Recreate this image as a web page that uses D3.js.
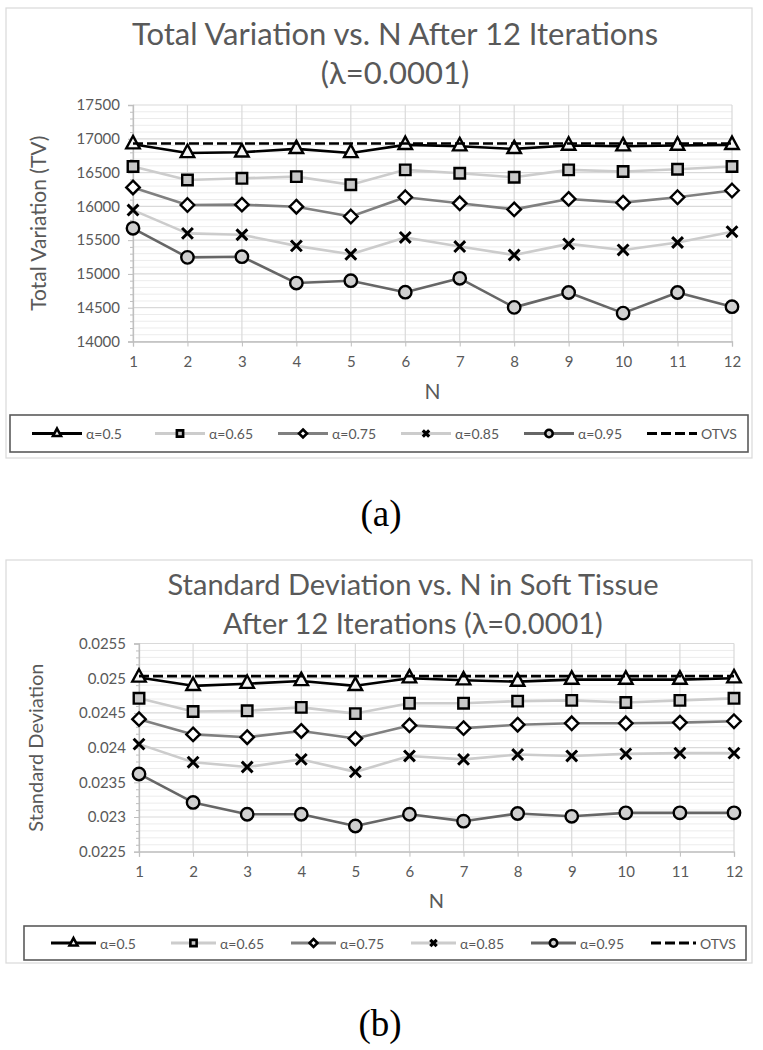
<!DOCTYPE html>
<html><head><meta charset="utf-8">
<script src="https://cdn.jsdelivr.net/npm/d3@7"></script>
<style>body{margin:0;background:#fff}svg{display:block}</style>
</head><body><svg id="c" width="763" height="1050"></svg>
<script>
// ---------- data ----------
const N = [1,2,3,4,5,6,7,8,9,10,11,12];
const seriesNames = ["α=0.5","α=0.65","α=0.75","α=0.85","α=0.95","OTVS"];

const tvAlpha050 = [16920,16790,16800,16850,16790,16910,16890,16850,16900,16890,16900,16910];
const tvAlpha065 = [16590,16390,16415,16440,16320,16540,16490,16430,16540,16515,16550,16590];
const tvAlpha075 = [16280,16020,16025,15995,15850,16135,16045,15955,16110,16055,16135,16235];
const tvAlpha085 = [15945,15600,15580,15415,15290,15540,15405,15280,15445,15355,15465,15625];
const tvAlpha095 = [15675,15245,15255,14865,14900,14730,14935,14505,14725,14420,14725,14515];
const tvOTVS     = [16930,16930,16930,16930,16930,16930,16930,16930,16930,16930,16930,16930];
const tvTicks = [14000,14500,15000,15500,16000,16500,17000,17500];

const sdAlpha050 = [0.02501,0.02489,0.02492,0.02496,0.02489,0.02500,0.02497,0.02495,0.02498,0.02498,0.02498,0.02500];
const sdAlpha065 = [0.02471,0.02452,0.02453,0.02458,0.02449,0.02464,0.02464,0.02467,0.02468,0.02465,0.02468,0.02471];
const sdAlpha075 = [0.02441,0.02419,0.02415,0.02424,0.02413,0.02432,0.02428,0.02433,0.02435,0.02435,0.02436,0.02438];
const sdAlpha085 = [0.02405,0.02379,0.02372,0.02383,0.02365,0.02388,0.02383,0.02390,0.02388,0.02391,0.02392,0.02392];
const sdAlpha095 = [0.02362,0.02321,0.02304,0.02304,0.02287,0.02304,0.02294,0.02305,0.02301,0.02306,0.02306,0.02306];
const sdOTVS     = [0.02503,0.02503,0.02503,0.02503,0.02503,0.02503,0.02503,0.02503,0.02503,0.02503,0.02503,0.02503];
const sdTicks = [0.0225,0.023,0.0235,0.024,0.0245,0.025,0.0255];

// ---------- styles ----------
const styles = [
  {stroke:"#000000", width:2.6, marker:"triangle", fill:"#f4f4f4"},
  {stroke:"#cccccc", width:2.6, marker:"square",   fill:"#c8c8c8"},
  {stroke:"#808080", width:2.6, marker:"diamond",  fill:"#ffffff"},
  {stroke:"#cccccc", width:2.6, marker:"x",        fill:"none"},
  {stroke:"#666666", width:2.6, marker:"circle",   fill:"#d0d0d0"},
  {stroke:"#000000", width:2.6, marker:null, dash:"10,4"}
];
const FONT = "Lato, 'Open Sans', sans-serif";
const GRAY = "#595959";

function markerPath(type, s) {
  const p = d3.path();
  if (type === "triangle") {
    const h = s*0.92, w = s;
    p.moveTo(0, -h*2/3); p.lineTo(w/2, h/3); p.lineTo(-w/2, h/3); p.closePath();
  } else if (type === "square") {
    const a = s*0.78/2; p.rect(-a,-a,2*a,2*a);
  } else if (type === "diamond") {
    const a = s*0.5; p.moveTo(0,-a); p.lineTo(a,0); p.lineTo(0,a); p.lineTo(-a,0); p.closePath();
  } else if (type === "x") {
    const a = s*0.4; p.moveTo(-a,-a); p.lineTo(a,a); p.moveTo(-a,a); p.lineTo(a,-a);
  } else if (type === "circle") {
    p.arc(0,0,s*0.46,0,2*Math.PI);
  }
  return p.toString();
}

function drawMarker(sel, st, s, sw) {
  sel.append("path").attr("d", markerPath(st.marker, s))
    .attr("fill", st.marker === "x" ? "none" : st.fill)
    .attr("stroke", "#000").attr("stroke-width", st.marker === "x" ? sw+0.6 : sw)
    .attr("stroke-linejoin","miter");
}

const svg = d3.select("#c");

function drawChart(cfg) {
  const g = svg.append("g");
  g.append("rect").attr("x",cfg.frame[0]).attr("y",cfg.frame[1])
    .attr("width",cfg.frame[2]).attr("height",cfg.frame[3])
    .attr("fill","#fff").attr("stroke","#d9d9d9").attr("stroke-width",1.2);

  const ticks = cfg.ticks;
  const lo = ticks[0], hi = ticks[ticks.length-1];
  const x = d3.scaleLinear().domain([N[0], N[N.length-1]]).range([cfg.plot.l, cfg.plot.r]);
  const y = d3.scaleLinear().domain([lo, hi]).range([cfg.plot.b, cfg.plot.t]);

  // minor grid
  const nMinor = (ticks.length-1)*5;
  const minors = d3.range(nMinor+1).map(i => lo + i*(hi-lo)/nMinor).filter((v,i)=> i%5!==0);
  g.append("g").selectAll("line").data(minors).join("line")
    .attr("x1",cfg.plot.l).attr("x2",cfg.plot.r)
    .attr("y1",d=>y(d)).attr("y2",d=>y(d))
    .attr("stroke","#ececec").attr("stroke-width",1);
  // major grid
  g.append("g").selectAll("line").data(ticks).join("line")
    .attr("x1",cfg.plot.l).attr("x2",cfg.plot.r)
    .attr("y1",d=>y(d)).attr("y2",d=>y(d))
    .attr("stroke","#d9d9d9").attr("stroke-width",1.2);
  g.append("g").selectAll("line").data(N).join("line")
    .attr("x1",d=>x(d)).attr("x2",d=>x(d))
    .attr("y1",cfg.plot.t).attr("y2",cfg.plot.b)
    .attr("stroke","#d9d9d9").attr("stroke-width",1.2);

  // minor y ticks
  const ym = g.append("g").attr("transform",`translate(${cfg.plot.l},0)`)
    .call(d3.axisLeft(y).tickValues(minors).tickSize(3).tickFormat(""));
  ym.select(".domain").remove();
  ym.selectAll("line").attr("stroke","#bfbfbf");

  const ya = g.append("g").attr("transform",`translate(${cfg.plot.l},0)`)
    .call(d3.axisLeft(y).tickValues(ticks).tickSize(5).tickPadding(cfg.yPad)
      .tickFormat(cfg.fmt));
  ya.select(".domain").attr("stroke","#bfbfbf").attr("stroke-width",1.3);
  ya.selectAll("line").attr("stroke","#bfbfbf");
  ya.selectAll("text").attr("fill",GRAY).style("font-family",FONT).style("font-size",cfg.tickFont+"px");

  const xa = g.append("g").attr("transform",`translate(0,${cfg.plot.b})`)
    .call(d3.axisBottom(x).tickValues(N).tickSize(5).tickPadding(10).tickFormat(d3.format("d")));
  xa.select(".domain").attr("stroke","#bfbfbf").attr("stroke-width",1.3);
  xa.selectAll("line").attr("stroke","#bfbfbf");
  xa.selectAll("text").attr("fill",GRAY).style("font-family",FONT).style("font-size",cfg.tickFont+"px");

  // titles
  cfg.title.forEach((t,i) => {
    g.append("text").attr("x",cfg.titleX).attr("y",cfg.titleY[i])
      .attr("text-anchor","middle").attr("dominant-baseline","central")
      .attr("fill",GRAY).style("font-family",FONT).style("font-size",cfg.titleFont+"px")
      .text(t);
  });
  g.append("text")
    .attr("transform",`translate(${cfg.yTitleX},${(cfg.plot.t+cfg.plot.b)/2}) rotate(-90)`)
    .attr("text-anchor","middle").attr("dominant-baseline","central")
    .attr("fill",GRAY).style("font-family",FONT).style("font-size",cfg.axisTitleFont+"px")
    .text(cfg.yTitle);
  g.append("text").attr("x",(cfg.plot.l+cfg.plot.r)/2).attr("y",cfg.xTitleY)
    .attr("text-anchor","middle").attr("dominant-baseline","central")
    .attr("fill",GRAY).style("font-family",FONT).style("font-size",cfg.axisTitleFont+"px")
    .text("N");

  // series
  const line = d3.line().x((d,i)=>x(N[i])).y(d=>y(d));
  cfg.series.forEach((vals, si) => {
    const st = styles[si];
    g.append("path").datum(vals).attr("d",line)
      .attr("fill","none").attr("stroke",st.stroke).attr("stroke-width",st.width)
      .attr("stroke-dasharray",st.dash||null).attr("stroke-linejoin","round");
    if (st.marker) {
      vals.forEach((v,i) => {
        const m = g.append("g").attr("transform",`translate(${x(N[i])},${y(v)})`);
        drawMarker(m, st, cfg.markerSize, 2.4);
      });
    }
  });

  // legend
  const L = cfg.legend;
  g.append("rect").attr("x",L.x).attr("y",L.y).attr("width",L.w).attr("height",L.h)
    .attr("fill","#fff").attr("stroke","#5a5a5a").attr("stroke-width",1.6);
  const cy = L.y + L.h/2;
  seriesNames.forEach((name, si) => {
    const st = styles[si];
    const x0 = L.x + L.first + si*L.step;
    const item = g.append("g");
    item.append("line").attr("x1",x0).attr("x2",x0+L.lineLen).attr("y1",cy).attr("y2",cy)
      .attr("stroke",st.stroke).attr("stroke-width",st.width+0.4)
      .attr("stroke-dasharray",st.dash||null);
    if (st.marker) {
      const m = item.append("g").attr("transform",`translate(${x0+L.lineLen/2},${cy})`);
      drawMarker(m, st, 8, 2.6);
    }
    item.append("text").attr("x",x0+L.lineLen+4).attr("y",cy)
      .attr("dominant-baseline","central").attr("fill",GRAY)
      .style("font-family",FONT).style("font-size",L.font+"px").text(name);
  });

  // caption
  svg.append("text").attr("x",cfg.caption.x).attr("y",cfg.caption.y)
    .attr("text-anchor","middle").attr("dominant-baseline","central")
    .attr("fill","#000").style("font-family","'Liberation Serif', 'DejaVu Serif', serif")
    .style("font-size","37px").text(cfg.caption.t);
}

drawChart({
  frame:[6,8,746,450],
  plot:{l:133,r:732,t:105,b:341.5},
  ticks:tvTicks, fmt:d3.format("d"), yPad:8, tickFont:15,
  title:["Total Variation vs. N After 12 Iterations","(λ=0.0001)"],
  titleX:395, titleY:[33,72], titleFont:31,
  yTitle:"Total Variation (TV)", yTitleX:37, xTitleY:390, axisTitleFont:21,
  series:[tvAlpha050,tvAlpha065,tvAlpha075,tvAlpha085,tvAlpha095,tvOTVS],
  markerSize:13.5,
  legend:{x:10,y:415,w:738,h:37,first:22,step:123,lineLen:50,font:14},
  caption:{x:381,y:513,t:"(a)"}
});

drawChart({
  frame:[6,560,746,403],
  plot:{l:139,r:734,t:643.5,b:851.7},
  ticks:sdTicks, fmt:d => String(+d.toFixed(4)), yPad:8, tickFont:15,
  title:["Standard Deviation vs. N in Soft Tissue","After 12 Iterations (λ=0.0001)"],
  titleX:413, titleY:[583,622], titleFont:29,
  yTitle:"Standard Deviation", yTitleX:35, xTitleY:900, axisTitleFont:20,
  series:[sdAlpha050,sdAlpha065,sdAlpha075,sdAlpha085,sdAlpha095,sdOTVS],
  markerSize:13.5,
  legend:{x:24,y:926,w:722,h:34,first:27,step:120,lineLen:45,font:14},
  caption:{x:380,y:1023,t:"(b)"}
});
</script></body></html>
